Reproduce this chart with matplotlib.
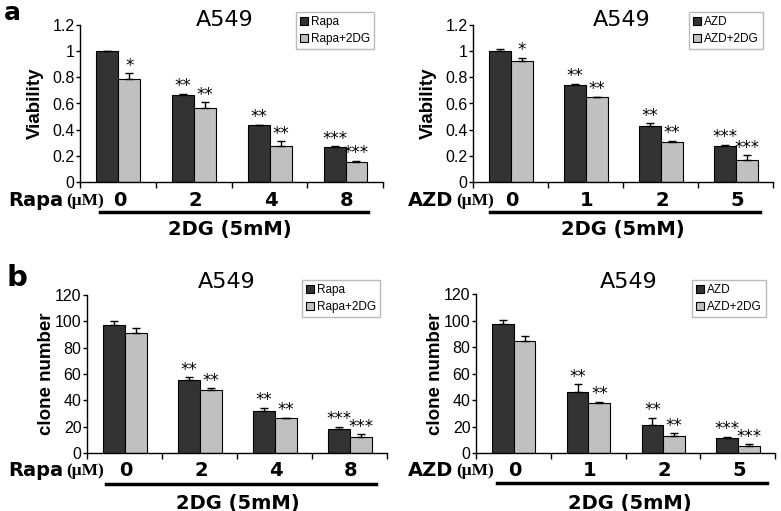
import numpy as np
import matplotlib
matplotlib.use('Agg')
import matplotlib.pyplot as plt
from matplotlib import font_manager
from matplotlib.patches import Patch
from matplotlib.ticker import FuncFormatter

# pick a narrow font for tick labels if one is there
narrow = 'Liberation Sans'
try:
    font_manager.findfont('Liberation Sans Narrow', fallback_to_default=False)
    narrow = 'Liberation Sans Narrow'
except Exception:
    pass
plt.rcParams['font.family'] = ['Liberation Sans', 'DejaVu Sans']

# concentrations
rapa_conc = ['0', '2', '4', '8']
azd_conc = ['0', '1', '2', '5']

# a: viability
via_rapa = [1.0, 0.667, 0.433, 0.267]
via_rapa_err = [0.004, 0.008, 0.006, 0.005]
via_rapa_2dg = [0.789, 0.562, 0.277, 0.155]
via_rapa_2dg_err = [0.043, 0.046, 0.033, 0.006]
via_azd = [1.0, 0.738, 0.43, 0.277]
via_azd_err = [0.013, 0.012, 0.018, 0.008]
via_azd_2dg = [0.924, 0.649, 0.303, 0.17]
via_azd_2dg_err = [0.027, 0.003, 0.013, 0.034]

# b: clone number
clone_rapa = [97.2, 55.1, 32.0, 18.5]
clone_rapa_err = [3.3, 2.5, 2.5, 1.3]
clone_rapa_2dg = [91.4, 48.2, 26.4, 12.2]
clone_rapa_2dg_err = [3.8, 0.8, 0.5, 2.0]
clone_azd = [97.2, 46.2, 21.0, 11.4]
clone_azd_err = [3.3, 5.6, 5.5, 0.7]
clone_azd_2dg = [84.6, 37.4, 13.1, 5.3]
clone_azd_2dg_err = [4.0, 1.2, 1.8, 1.3]

# significance marks
sig_via_drug = ['', '**', '**', '***']
sig_via_combo = ['*', '**', '**', '***']
sig_clone_drug = ['', '**', '**', '***']
sig_clone_combo = ['', '**', '**', '***']

W, H = 781, 511
fig = plt.figure(figsize=(W / 100, H / 100), dpi=100)

def px(x, y):
    return x / W, 1 - y / H

def panel(rect, drug, conc, v1, e1, v2, e2, s1, s2, ymax, ystep, ylabel, ylab_x,
          leg_xy, title_xy, drug_xy, line_x, line_y, dg_xy, num_y):
    l, t, r, b = rect
    ax = fig.add_axes([l / W, 1 - b / H, (r - l) / W, (b - t) / H])
    x = np.arange(len(conc))
    w = 0.29
    dark, light = '#333333', '#c0c0c0'
    ax.bar(x + 0.36, v1, w, color=dark, edgecolor='black', lw=0.8)
    ax.bar(x + 0.65, v2, w, color=light, edgecolor='black', lw=0.8)
    z = np.zeros(len(conc))
    ax.errorbar(x + 0.36, v1, yerr=[z, e1], fmt='none', ecolor='black', elinewidth=1, capsize=3, capthick=1)
    ax.errorbar(x + 0.65, v2, yerr=[z, e2], fmt='none', ecolor='black', elinewidth=1, capsize=3, capthick=1)
    for i in range(len(conc)):
        for xo, v, e, s in ((0.36, v1[i], e1[i], s1[i]), (0.65, v2[i], e2[i], s2[i])):
            if s:
                ax.annotate(s, (i + xo, v + e), xytext=(0, -1), textcoords='offset points',
                            ha='center', va='bottom', fontsize=12, family='DejaVu Sans')
    ax.set_xlim(0, len(conc))
    ax.set_ylim(0, ymax)
    ax.set_xticks(np.arange(len(conc) + 1))
    ax.set_xticklabels([])
    ax.set_yticks(np.arange(0, ymax + ystep / 2, ystep))
    ax.yaxis.set_major_formatter(FuncFormatter(lambda v, p: '%g' % round(v, 2)))
    ax.tick_params(axis='y', length=3, width=1, labelsize=11.5, pad=1)
    ax.tick_params(axis='x', length=4, width=1)
    for lab in ax.get_yticklabels():
        lab.set_family(narrow)
    for sp in ['top', 'right']:
        ax.spines[sp].set_visible(False)
    for sp in ['left', 'bottom']:
        ax.spines[sp].set_linewidth(1)
    ax.set_ylabel(ylabel, fontsize=13.5, fontweight='bold')
    ax.yaxis.set_label_coords(ylab_x, 0.5)

    handles = [Patch(facecolor=dark, edgecolor='black', lw=0.8), Patch(facecolor=light, edgecolor='black', lw=0.8)]
    fig.legend(handles, [drug, drug + '+2DG'], loc='upper left', bbox_to_anchor=px(*leg_xy),
               frameon=True, fancybox=False, edgecolor='#bbbbbb', framealpha=1,
               prop={'family': narrow, 'size': 8.5}, handlelength=0.7, handleheight=0.7,
               handletextpad=0.2, labelspacing=0.4, borderpad=0.35, borderaxespad=0)

    fig.text(*px(*title_xy), 'A549', ha='center', va='center', fontsize=16, family='DejaVu Sans')
    fig.text(*px(*drug_xy), drug, ha='right', va='center', fontsize=14, fontweight='bold', family='DejaVu Sans')
    fig.text(*px(drug_xy[0] + 3, drug_xy[1] + 1), '(\u03bcM)', ha='left', va='center', fontsize=12.5,
             fontweight='bold', family=['Liberation Serif', 'DejaVu Serif'])
    for i, c in enumerate(conc):
        ax.text(i + 0.52, -(num_y - b) / (b - t), c, transform=ax.get_xaxis_transform(),
                ha='center', va='center', fontsize=14, fontweight='bold', family='DejaVu Sans')
    fig.add_artist(plt.Line2D([line_x[0] / W, line_x[1] / W], [1 - line_y / H] * 2, color='black', lw=2.5))
    fig.text(*px(*dg_xy), '2DG (5mM)', ha='center', va='center', fontsize=14, fontweight='bold', family='DejaVu Sans')
    return ax

panel((80, 25, 383, 182), 'Rapa', rapa_conc, via_rapa, via_rapa_err, via_rapa_2dg, via_rapa_2dg_err,
      sig_via_drug, sig_via_combo, 1.2, 0.2, 'Viability', -0.12,
      (296, 12), (225, 20), (63, 200), (100, 368), 212, (230, 230), 200)
panel((473, 25, 773, 182), 'AZD', azd_conc, via_azd, via_azd_err, via_azd_2dg, via_azd_2dg_err,
      sig_via_drug, sig_via_combo, 1.2, 0.2, 'Viability', -0.12,
      (689, 12), (622, 20), (453, 200), (490, 760), 212, (623, 230), 200)
panel((87, 295, 387, 453), 'Rapa', rapa_conc, clone_rapa, clone_rapa_err, clone_rapa_2dg, clone_rapa_2dg_err,
      sig_clone_drug, sig_clone_combo, 120, 20, 'clone number', -0.107,
      (302, 280), (227, 282), (63, 470), (106, 376), 484, (238, 503), 470)
panel((476, 294, 775, 453), 'AZD', azd_conc, clone_azd, clone_azd_err, clone_azd_2dg, clone_azd_2dg_err,
      sig_clone_drug, sig_clone_combo, 120, 20, 'clone number', -0.107,
      (692, 280), (629, 282), (453, 470), (497, 767), 483, (630, 503), 470)

fig.text(*px(12, 20), 'a', ha='center', va='baseline', fontsize=18, fontweight='bold', family='DejaVu Sans')
fig.text(*px(17, 286), 'b', ha='center', va='baseline', fontsize=21, fontweight='bold', family='DejaVu Sans')

fig.savefig('out.png', dpi=100)
